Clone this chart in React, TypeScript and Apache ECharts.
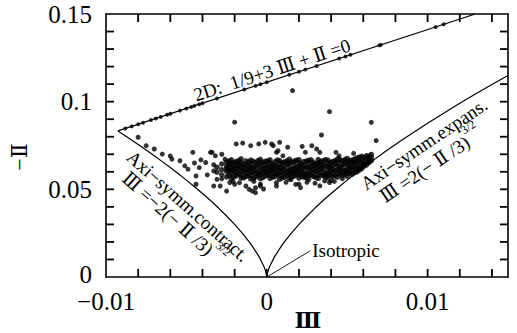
import React, { useEffect, useRef } from "react";
import * as echarts from "echarts";

const SERIF = '"Liberation Serif", "DejaVu Serif", serif';

// Axis tick positions and labels
const xTickValues = [-0.008, -0.006, -0.004, -0.002, 0, 0.002, 0.004, 0.006, 0.008, 0.01, 0.012, 0.014];
const yTickValues = [0.01, 0.02, 0.03, 0.04, 0.05, 0.06, 0.07, 0.08, 0.09, 0.1, 0.11, 0.12, 0.13, 0.14];
const xLabelValues = [-0.01, 0, 0.01];
const xLabelTexts = ["\u22120.01", "0", "0.01"];
const yLabelValues = [0, 0.05, 0.1, 0.15];
const yLabelTexts = ["0", "0.05", "0.1", "0.15"];

// 2D limit line: 1/9 + 3 III + II = 0
const twoDLine: number[][] = [
  [-0.009259, 0.08333],
  [0.012963, 0.15],
];

// Axisymmetric contraction curve III = -2(-II/3)^{3/2}
const contractCurve: number[][] = [
  [-0.009259, 0.08333], [-0.009, 0.08171], [-0.0085, 0.0787], [-0.008, 0.0756],
  [-0.0075, 0.0724], [-0.007, 0.06915], [-0.0065, 0.0658], [-0.006, 0.0624],
  [-0.0055, 0.0589], [-0.005, 0.05526], [-0.0045, 0.0515], [-0.004, 0.04762],
  [-0.0035, 0.0436], [-0.003, 0.03932], [-0.0025, 0.0348], [-0.002, 0.03],
  [-0.0015, 0.02477], [-0.001, 0.0189], [-0.0005, 0.0119], [-0.0002, 0.00646],
  [-0.0001, 0.00407], [-0.00005, 0.00256], [-0.00002, 0.00139], [0, 0],
];

// Axisymmetric expansion curve III = 2(-II/3)^{3/2}
const expansCurve: number[][] = [
  [0, 0], [0.00002, 0.00139], [0.00005, 0.00256], [0.0001, 0.00407],
  [0.0002, 0.00646], [0.0005, 0.0119], [0.001, 0.0189], [0.0015, 0.02477],
  [0.002, 0.03], [0.0025, 0.0348], [0.003, 0.03932], [0.0035, 0.0436],
  [0.004, 0.04762], [0.0045, 0.0515], [0.005, 0.05526], [0.0055, 0.0589],
  [0.006, 0.0624], [0.0065, 0.0658], [0.007, 0.06915], [0.0075, 0.0724],
  [0.008, 0.0756], [0.0085, 0.0787], [0.009, 0.08171], [0.0095, 0.0847],
  [0.01, 0.08772], [0.0105, 0.0906], [0.011, 0.09345], [0.012, 0.09905],
  [0.013, 0.1045], [0.014, 0.1098], [0.015, 0.1149],
];

// Isotropic leader line
const isoLeader: number[][] = [
  [0, 0],
  [0.00269, 0.0149],
];

// Data points lying on the 2D line
const twoDPoints: number[][] = [
  [-0.0088, 0.0847], [-0.0084, 0.0859], [-0.008, 0.0871], [-0.0077, 0.088],
  [-0.0072, 0.0895], [-0.0069, 0.0904], [-0.0066, 0.0913], [-0.0062, 0.0925],
  [-0.006, 0.0931], [-0.0054, 0.0949], [-0.005, 0.0961], [-0.0047, 0.097],
  [-0.0045, 0.0976], [-0.0042, 0.0985], [-0.004, 0.0991], [-0.0031, 0.1018],
  [-0.0014, 0.1069], [-0.0007, 0.109], [-0.0004, 0.1099], [0.0, 0.1111],
  [0.0014, 0.1153], [0.002, 0.1171], [0.0024, 0.1183], [0.0031, 0.1204],
  [0.0045, 0.1246], [0.0049, 0.1258], [0.0052, 0.1267], [0.007, 0.1321],
  [0.0071, 0.1324], [0.0105, 0.1426], [0.011, 0.1441],
];

// Dense cluster of points (first pass)
const clusterPoints: number[][] = [
  [-0.0025, 0.0571], [-0.0025, 0.0602], [-0.0025, 0.0618], [-0.0025, 0.0633], [-0.0025, 0.0655],
  [-0.0022, 0.0562], [-0.0022, 0.0589], [-0.0022, 0.0611], [-0.0022, 0.0627], [-0.0022, 0.0648], [-0.0022, 0.0668],
  [-0.0019, 0.0578], [-0.0019, 0.0596], [-0.0019, 0.062], [-0.0019, 0.0641], [-0.0019, 0.0659],
  [-0.0016, 0.0565], [-0.0016, 0.0583], [-0.0016, 0.0607], [-0.0016, 0.0629], [-0.0016, 0.0651], [-0.0016, 0.0674],
  [-0.0013, 0.0573], [-0.0013, 0.0594], [-0.0013, 0.0612], [-0.0013, 0.0636], [-0.0013, 0.0662],
  [-0.001, 0.0559], [-0.001, 0.0581], [-0.001, 0.0603], [-0.001, 0.0622], [-0.001, 0.0644], [-0.001, 0.0667],
  [-0.0007, 0.0569], [-0.0007, 0.0591], [-0.0007, 0.0614], [-0.0007, 0.0631], [-0.0007, 0.0653],
  [-0.0004, 0.0561], [-0.0004, 0.0586], [-0.0004, 0.0605], [-0.0004, 0.0625], [-0.0004, 0.0647], [-0.0004, 0.0671],
  [-0.0001, 0.0576], [-0.0001, 0.0598], [-0.0001, 0.0616], [-0.0001, 0.0638], [-0.0001, 0.066],
  [0.0002, 0.0563], [0.0002, 0.0584], [0.0002, 0.0609], [0.0002, 0.0628], [0.0002, 0.065], [0.0002, 0.0668],
  [0.0005, 0.0572], [0.0005, 0.0593], [0.0005, 0.0619], [0.0005, 0.0637], [0.0005, 0.0657],
  [0.0008, 0.0558], [0.0008, 0.058], [0.0008, 0.0601], [0.0008, 0.0624], [0.0008, 0.0645], [0.0008, 0.0664],
  [0.0011, 0.0568], [0.0011, 0.059], [0.0011, 0.0613], [0.0011, 0.0634], [0.0011, 0.0656],
  [0.0014, 0.056], [0.0014, 0.0587], [0.0014, 0.0606], [0.0014, 0.0626], [0.0014, 0.0649], [0.0014, 0.0672],
  [0.0017, 0.0575], [0.0017, 0.0597], [0.0017, 0.0617], [0.0017, 0.0639], [0.0017, 0.0661],
  [0.002, 0.0564], [0.002, 0.0585], [0.002, 0.0608], [0.002, 0.063], [0.002, 0.0652], [0.002, 0.0669],
  [0.0023, 0.057], [0.0023, 0.0592], [0.0023, 0.0615], [0.0023, 0.0635], [0.0023, 0.0658],
  [0.0026, 0.0557], [0.0026, 0.0582], [0.0026, 0.0604], [0.0026, 0.0623], [0.0026, 0.0646], [0.0026, 0.0665],
  [0.0029, 0.0574], [0.0029, 0.0595], [0.0029, 0.0618], [0.0029, 0.064], [0.0029, 0.0654],
  [0.0032, 0.0562], [0.0032, 0.0588], [0.0032, 0.061], [0.0032, 0.0632], [0.0032, 0.0651], [0.0032, 0.067],
  [0.0035, 0.0577], [0.0035, 0.0599], [0.0035, 0.0621], [0.0035, 0.0643], [0.0035, 0.0663],
  [0.0038, 0.0566], [0.0038, 0.0583], [0.0038, 0.0607], [0.0038, 0.0628], [0.0038, 0.0648], [0.0038, 0.0666],
  [0.0041, 0.0573], [0.0041, 0.0594], [0.0041, 0.0616], [0.0041, 0.0637], [0.0041, 0.0659],
  [0.0044, 0.0569], [0.0044, 0.059], [0.0044, 0.0611], [0.0044, 0.0633], [0.0044, 0.0655], [0.0044, 0.0673],
  [0.0047, 0.0579], [0.0047, 0.06], [0.0047, 0.0622], [0.0047, 0.0642], [0.0047, 0.0662],
  [0.005, 0.0574], [0.005, 0.0596], [0.005, 0.0614], [0.005, 0.0636], [0.005, 0.0657], [0.005, 0.0676],
  [0.0053, 0.0586], [0.0053, 0.0605], [0.0053, 0.0627], [0.0053, 0.0648], [0.0053, 0.0667],
  [0.0056, 0.06], [0.0056, 0.0617], [0.0056, 0.0639], [0.0056, 0.0658], [0.0056, 0.0679],
  [0.0059, 0.0618], [0.0059, 0.0633], [0.0059, 0.0652], [0.0059, 0.0671], [0.0059, 0.0688],
  [0.0062, 0.064], [0.0062, 0.0655], [0.0062, 0.0674], [0.0062, 0.0692],
  [0.0065, 0.0664], [0.0065, 0.0681], [0.0065, 0.0699],
];

// Dense cluster of points (second pass, in between)
const clusterPoints2: number[][] = [
  [-0.0031, 0.0598], [-0.0031, 0.0626],
  [-0.0028, 0.0583], [-0.0028, 0.0612], [-0.0028, 0.0645],
  [-0.00235, 0.058], [-0.00235, 0.0608], [-0.00235, 0.064], [-0.00235, 0.0662],
  [-0.00205, 0.0569], [-0.00205, 0.0603], [-0.00205, 0.0623], [-0.00205, 0.0652],
  [-0.00175, 0.0587], [-0.00175, 0.0615], [-0.00175, 0.0636], [-0.00175, 0.0664],
  [-0.00145, 0.0566], [-0.00145, 0.06], [-0.00145, 0.0621], [-0.00145, 0.0645],
  [-0.00115, 0.0579], [-0.00115, 0.0608], [-0.00115, 0.063], [-0.00115, 0.0655],
  [-0.00085, 0.0563], [-0.00085, 0.0597], [-0.00085, 0.0625], [-0.00085, 0.066],
  [-0.00055, 0.0578], [-0.00055, 0.06], [-0.00055, 0.064], [-0.00055, 0.0664],
  [-0.00025, 0.0567], [-0.00025, 0.0592], [-0.00025, 0.0621], [-0.00025, 0.0654],
  [0.00005, 0.0581], [0.00005, 0.0604], [0.00005, 0.0633], [0.00005, 0.0662],
  [0.00035, 0.0569], [0.00035, 0.0598], [0.00035, 0.0618], [0.00035, 0.0643],
  [0.00065, 0.0585], [0.00065, 0.061], [0.00065, 0.063], [0.00065, 0.0667],
  [0.00095, 0.0566], [0.00095, 0.0596], [0.00095, 0.062], [0.00095, 0.0651],
  [0.00125, 0.0579], [0.00125, 0.0603], [0.00125, 0.0643], [0.00125, 0.0662],
  [0.00155, 0.0569], [0.00155, 0.0594], [0.00155, 0.0615], [0.00155, 0.0657],
  [0.00185, 0.0582], [0.00185, 0.0606], [0.00185, 0.0628], [0.00185, 0.0666],
  [0.00215, 0.0574], [0.00215, 0.0599], [0.00215, 0.0622], [0.00215, 0.0644],
  [0.00245, 0.0565], [0.00245, 0.0588], [0.00245, 0.0627], [0.00245, 0.0661],
  [0.00275, 0.058], [0.00275, 0.0608], [0.00275, 0.0632], [0.00275, 0.0668],
  [0.00305, 0.0568], [0.00305, 0.0601], [0.00305, 0.0625], [0.00305, 0.0646],
  [0.00335, 0.0583], [0.00335, 0.0614], [0.00335, 0.0638], [0.00335, 0.0658],
  [0.00365, 0.0572], [0.00365, 0.0592], [0.00365, 0.0633], [0.00365, 0.0669],
  [0.00395, 0.0581], [0.00395, 0.0603], [0.00395, 0.0624], [0.00395, 0.0652],
  [0.00425, 0.0578], [0.00425, 0.0607], [0.00425, 0.0645], [0.00425, 0.0664],
  [0.00455, 0.0586], [0.00455, 0.0611], [0.00455, 0.0629], [0.00455, 0.0668],
  [0.00485, 0.0584], [0.00485, 0.0606], [0.00485, 0.0647], [0.00485, 0.067],
  [0.00515, 0.0592], [0.00515, 0.0619], [0.00515, 0.064], [0.00515, 0.0663],
  [0.00545, 0.0595], [0.00545, 0.0622], [0.00545, 0.065], [0.00545, 0.0672],
  [0.00575, 0.061], [0.00575, 0.0628], [0.00575, 0.0662], [0.00575, 0.0683],
  [0.00605, 0.0632], [0.00605, 0.0648], [0.00605, 0.0681],
  [0.00635, 0.0652], [0.00635, 0.0671], [0.00635, 0.069],
];

// Sparse points around the cluster
const sparsePoints: number[][] = [
  [-0.008, 0.0797], [-0.0075, 0.0749], [-0.007, 0.073], [-0.0065, 0.0701], [-0.006, 0.069],
  [-0.0059, 0.0672], [-0.0054, 0.0663], [-0.0051, 0.0634], [-0.0049, 0.0615], [-0.0046, 0.0711],
  [-0.0045, 0.065], [-0.0044, 0.0576], [-0.0044, 0.0529], [-0.0042, 0.0624], [-0.0041, 0.0668],
  [-0.0038, 0.0653], [-0.0037, 0.0582], [-0.0035, 0.0711], [-0.0034, 0.0711], [-0.0033, 0.0605],
  [-0.0033, 0.064], [-0.0033, 0.0519], [-0.0032, 0.0691], [-0.0031, 0.0557], [-0.0029, 0.0519],
  [-0.0028, 0.07], [-0.0028, 0.056], [-0.0026, 0.0672], [-0.0025, 0.049], [-0.0024, 0.0615],
  [-0.0023, 0.0539], [-0.0021, 0.0545], [-0.002, 0.0883], [-0.002, 0.0529], [-0.0019, 0.0759],
  [-0.0017, 0.0538], [-0.0015, 0.0764], [-0.0013, 0.0519], [-0.0011, 0.05], [-0.001, 0.0749],
  [-0.0009, 0.049], [-0.0008, 0.0545], [-0.0007, 0.0509], [-0.0007, 0.0481], [-0.0005, 0.0759],
  [-0.0004, 0.0519], [-0.0004, 0.053], [-0.0002, 0.0502], [-0.0001, 0.0768], [0.0003, 0.0759],
  [0.0004, 0.0749], [0.0006, 0.0711], [0.0006, 0.0538], [0.0006, 0.0519], [0.0007, 0.072],
  [0.0008, 0.0768], [0.001, 0.0691], [0.0012, 0.054], [0.0013, 0.074], [0.0015, 0.0555],
  [0.0016, 0.1063], [0.0018, 0.0528], [0.002, 0.0529], [0.0021, 0.051], [0.0022, 0.0745],
  [0.0024, 0.0711], [0.0025, 0.054], [0.0028, 0.0749], [0.003, 0.0535], [0.0031, 0.073],
  [0.0033, 0.0711], [0.0033, 0.052], [0.0034, 0.081], [0.0036, 0.0548], [0.0039, 0.0943],
  [0.0039, 0.0539], [0.004, 0.055], [0.0042, 0.0545], [0.0043, 0.0711], [0.0045, 0.069],
  [0.0047, 0.056], [0.0054, 0.0705], [0.0065, 0.0882], [0.0068, 0.0778],
];

const X_MIN = -0.01;
const X_MAX = 0.015;
const Y_MIN = 0;
const Y_MAX = 0.15;
// tick length, in axis units
const X_TICK_LEN = 0.0005;
const Y_TICK_LEN = 0.0046;

function labelFor(values: number[], texts: string[], rich?: boolean) {
  return (v: number) => {
    const i = values.findIndex((t) => Math.abs(t - v) < 1e-9);
    if (i < 0) return "";
    return rich && Math.abs(v) < 1e-12 ? "{z|" + texts[i] + "}" : texts[i];
  };
}

export default function App() {
  const ref = useRef<HTMLDivElement>(null);
  useEffect(() => {
    if (!ref.current) return;
    const chart = echarts.init(ref.current, null, { renderer: "svg" });
    const black = "#000";
    const mkLine = () => ({
      show: true,
      onZero: false,
      lineStyle: { color: black, width: 1.6 },
    });
    const lineSeries = (data: number[][], width = 1.2) => ({
      type: "line" as const,
      data,
      symbol: "none",
      lineStyle: { color: black, width },
      silent: true,
      z: 2,
    });
    const textStyle = (size: number) => ({
      fontSize: size,
      fontFamily: SERIF,
      fill: black,
      align: "center",
      verticalAlign: "middle",
    });
    const dots = (data: number[][], size: number) => ({
      type: "scatter" as const,
      data,
      symbol: "circle",
      symbolSize: size,
      itemStyle: { color: black },
      z: 3,
    });
    const supRich = {
      m: { fontSize: 19, fontFamily: SERIF, fill: black, lineHeight: 26, verticalAlign: "bottom" },
      s: { fontSize: 12, fontFamily: SERIF, fill: black, lineHeight: 12, verticalAlign: "top" },
    };
    // Tick marks as short line series, placed through the axes' scales
    const tickLines: any[] = [];
    xTickValues.forEach((v) => {
      tickLines.push(lineSeries([[v, Y_MIN], [v, Y_MIN + Y_TICK_LEN]], 1.8));
      tickLines.push(lineSeries([[v, Y_MAX], [v, Y_MAX - Y_TICK_LEN]], 1.8));
    });
    yTickValues.forEach((v) => {
      tickLines.push(lineSeries([[X_MIN, v], [X_MIN + X_TICK_LEN, v]], 1.8));
      tickLines.push(lineSeries([[X_MAX, v], [X_MAX - X_TICK_LEN, v]], 1.8));
    });
    chart.setOption({
      animation: false,
      backgroundColor: "#fff",
      grid: { left: 106, right: 9, top: 14, bottom: 56 },
      xAxis: [
        {
          type: "value",
          min: X_MIN,
          max: X_MAX,
          interval: 0.002,
          position: "bottom",
          axisLine: mkLine(),
          axisTick: { show: false },
          splitLine: { show: false },
          axisLabel: {
            show: true,
            margin: 12,
            fontSize: 25,
            fontFamily: SERIF,
            color: black,
            formatter: labelFor(xLabelValues, xLabelTexts),
          },
        },
        {
          type: "value",
          min: X_MIN,
          max: X_MAX,
          interval: 0.002,
          position: "top",
          axisLine: mkLine(),
          axisTick: { show: false },
          splitLine: { show: false },
          axisLabel: { show: false },
        },
      ],
      yAxis: [
        {
          type: "value",
          min: Y_MIN,
          max: Y_MAX,
          interval: 0.01,
          position: "left",
          axisLine: mkLine(),
          axisTick: { show: false },
          splitLine: { show: false },
          axisLabel: {
            show: true,
            margin: 14,
            fontSize: 25,
            lineHeight: 20,
            fontFamily: SERIF,
            color: black,
            formatter: labelFor(yLabelValues, yLabelTexts, true),
            rich: {
              z: { fontSize: 25, fontFamily: SERIF, color: black, lineHeight: 20, padding: [0, 0, 6, 0] },
            },
          },
        },
        {
          type: "value",
          min: Y_MIN,
          max: Y_MAX,
          interval: 0.01,
          position: "right",
          axisLine: mkLine(),
          axisTick: { show: false },
          splitLine: { show: false },
          axisLabel: { show: false },
        },
      ],
      series: [
        lineSeries(twoDLine),
        lineSeries(contractCurve),
        lineSeries(expansCurve),
        lineSeries(isoLeader, 0.9),
        dots(twoDPoints, 4),
        dots(clusterPoints, 5.5),
        dots(clusterPoints2, 5.5),
        dots(sparsePoints, 5),
        ...tickLines,
      ],
      graphic: [
        {
          type: "text",
          x: 272,
          y: 70,
          rotation: (18 * Math.PI) / 180,
          style: { ...textStyle(19), text: "2D:  1/9+3 \u2162 + \u2161 =0" },
          z: 10,
        },
        {
          type: "text",
          x: 188,
          y: 206,
          rotation: (-41.7 * Math.PI) / 180,
          style: { ...textStyle(19), text: "Axi\u2212symm.contract." },
          z: 10,
        },
        {
          type: "text",
          x: 176,
          y: 216,
          rotation: (-41.7 * Math.PI) / 180,
          style: {
            ...textStyle(19),
            text: "{m|\u2162 =\u22122(\u2212 \u2161 /3)}{s|3/2}",
            rich: supRich,
          },
          z: 10,
        },
        {
          type: "text",
          x: 424,
          y: 144,
          rotation: (34 * Math.PI) / 180,
          style: { ...textStyle(19), text: "Axi\u2212symm.expans." },
          z: 10,
        },
        {
          type: "text",
          x: 429,
          y: 162,
          rotation: (34 * Math.PI) / 180,
          style: {
            ...textStyle(19),
            text: "{m|\u2162 =2(\u2212 \u2161 /3)}{s|3/2}",
            rich: supRich,
          },
          z: 10,
        },
        {
          type: "text",
          x: 346,
          y: 250,
          style: { ...textStyle(19), text: "Isotropic" },
          z: 10,
        },
        {
          type: "text",
          x: 308,
          y: 320,
          style: { ...textStyle(22), text: "\u2162", fontWeight: "bold" },
          z: 10,
        },
        {
          type: "text",
          x: 19,
          y: 157,
          rotation: Math.PI / 2,
          style: { ...textStyle(22), text: "\u2212\u2161" },
          z: 10,
        },
      ],
    });
    return () => chart.dispose();
  }, []);
  return (
    <div
      ref={ref}
      style={{ position: "fixed", left: 0, top: 0, width: 517, height: 333 }}
    />
  );
}
